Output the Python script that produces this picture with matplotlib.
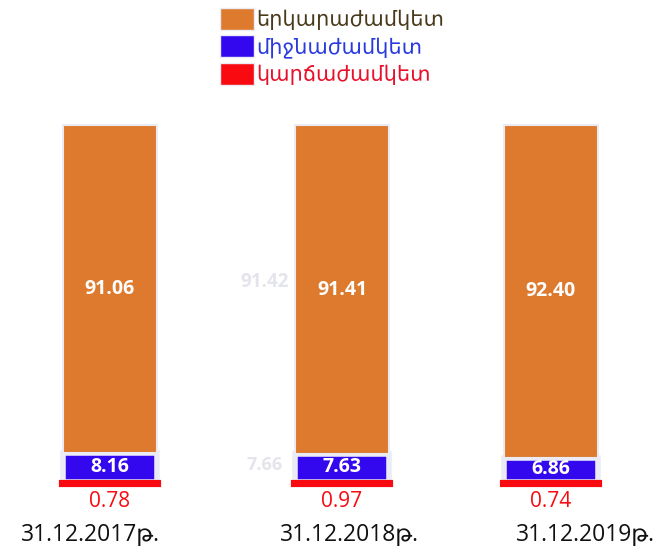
import matplotlib
matplotlib.use("Agg")
import matplotlib.pyplot as plt
from matplotlib.patches import Patch
import numpy as np

categories = ["31.12.2017թ.", "31.12.2018թ.", "31.12.2019թ."]
series_names = ["երկարաժամկետ", "միջնաժամկետ", "կարճաժամկետ"]
short_term = [0.78, 0.97, 0.74]
medium_term = [8.16, 7.63, 6.86]
long_term = [91.06, 91.41, 92.40]
ghost_labels = ["91.42", "7.66"]

positions = np.array([0.0, 1.0, 1.9])
c_long = "#DD7A2E"
c_med = "#3308EE"
c_short = "#F80A10"
edge = "#EBEBF5"
fam = ["Open Sans", "DejaVu Sans"]

fig = plt.figure(figsize=(6.62, 5.51), dpi=100)
ax = fig.add_axes([0, 0, 1, 1])
ax.set_xlim(-0.474, 2.379)
ax.set_ylim(-18.3, 134.7)
ax.axis("off")

w = 0.42
short = np.array(short_term)
med = np.array(medium_term)
lng = np.array(long_term)

ax.bar(positions, med, w * 0.97, bottom=short, color=c_med, edgecolor=edge, linewidth=4, zorder=3)
ax.bar(positions, lng, w * 0.97, bottom=short + med, color=c_long, edgecolor=edge, linewidth=1.5, zorder=3)
ax.bar(positions, short, w, color=c_short, edgecolor=c_short, linewidth=3, zorder=4)

for i, x in enumerate(positions):
    ax.text(x, short[i] + med[i] + lng[i] / 2, f"{lng[i]:.2f}", ha="center", va="center",
            color="white", fontsize=14, fontweight="bold", family=fam, zorder=5)
    ax.text(x, short[i] + med[i] / 2 + 0.3, f"{med[i]:.2f}", ha="center", va="center",
            color="white", fontsize=14, fontweight="bold", family=fam, zorder=5)
    ax.text(x, -1.6, f"{short[i]:.2f}", ha="center", va="top",
            color=c_short, fontsize=15, family=fam, zorder=5)

# faint ghost labels from the background image
ax.text(0.668, short[0] + med[0] + lng[0] / 2 + 2, ghost_labels[0], ha="center", va="center",
        color="#E4E4EC", fontsize=13.5, fontweight="bold", family=fam, zorder=1)
ax.text(0.668, 5.5, ghost_labels[1], ha="center", va="center",
        color="#E4E4EC", fontsize=13, fontweight="bold", family=fam, zorder=1)

label_x = [-0.086, 1.034, 2.05]
for lx, lab in zip(label_x, categories):
    ax.text(lx, -13.9, lab, ha="center", va="center", color="#111111", fontsize=16.5,
            family=fam)

handles = [Patch(facecolor=c, edgecolor=edge, linewidth=1) for c in (c_long, c_med, c_short)]
leg = fig.legend(handles, series_names, loc="upper left", bbox_to_anchor=(0.31, 1.012),
                 frameon=False, handlelength=1.65, handleheight=1.25, handletextpad=0.12,
                 labelspacing=0.25, borderaxespad=0.3, prop={"family": "DejaVu Sans", "size": 15})
for t, c in zip(leg.get_texts(), ("#4A3A1C", "#2A3ADF", "#E8102A")):
    t.set_color(c)

fig.savefig("out.png", dpi=100)
